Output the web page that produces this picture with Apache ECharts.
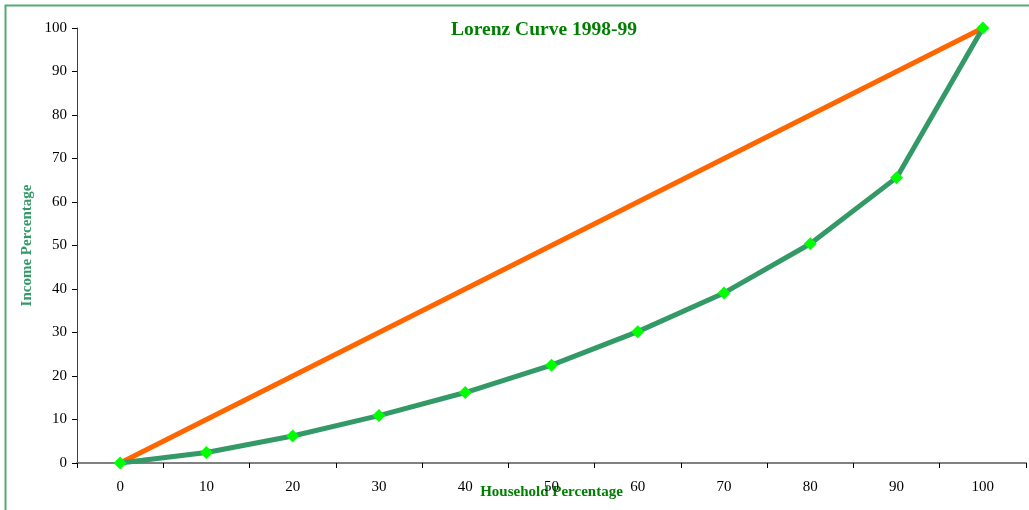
<!DOCTYPE html>
<html>
<head>
<meta charset="utf-8">
<script src="https://cdn.jsdelivr.net/npm/echarts@6/dist/echarts.min.js"></script>
<style>html,body{margin:0;padding:0;background:#fff;}#c{width:1029px;height:510px;}</style>
</head>
<body>
<div id="c"></div>
<script>
const categories = ['0','10','20','30','40','50','60','70','80','90','100'];
const equality = [0,10,20,30,40,50,60,70,80,90,100];
const lorenz = [0,2.4,6.2,10.9,16.2,22.5,30.2,39.1,50.4,65.6,100];
const yTicks = [0,10,20,30,40,50,60,70,80,90,100];

const chart = echarts.init(document.getElementById('c'));
const serif = '"Liberation Serif","DejaVu Serif",serif';
chart.setOption({
  animation: false,
  backgroundColor: '#fff',
  graphic: [{
    type: 'rect', left: 3, top: 3, z: -1,
    shape: { width: 1100, height: 600 },
    style: { fill: 'none', stroke: '#55aa77', lineWidth: 2 }
  }],
  title: {
    text: 'Lorenz Curve 1998-99', left: 539, top: 15, textAlign: 'center',
    textStyle: { fontFamily: serif, fontWeight: 'bold', fontSize: 19.5, color: '#008000' }
  },
  grid: { left: 77, right: 3, top: 28, bottom: 47, outerBoundsMode: 'none', containLabel: false },
  xAxis: {
    type: 'category', data: categories, boundaryGap: true,
    name: 'Household Percentage', nameLocation: 'middle', nameGap: 22, nameMoveOverlap: false,
    nameTextStyle: { fontFamily: serif, fontWeight: 'bold', fontSize: 15, color: '#008000' },
    axisLine: { lineStyle: { color: '#808080', width: 2 } },
    axisTick: { show: true, alignWithLabel: false, length: 5, lineStyle: { color: '#000' } },
    axisLabel: { fontFamily: serif, fontSize: 15, color: '#000', margin: 17 },
    splitLine: { show: false }
  },
  yAxis: {
    type: 'value', min: 0, max: 100, interval: 10,
    name: 'Income Percentage', nameLocation: 'middle', nameGap: 42, nameRotate: 90, nameMoveOverlap: false,
    nameTextStyle: { fontFamily: serif, fontWeight: 'bold', fontSize: 15, color: '#339966' },
    axisLine: { show: true, lineStyle: { color: '#404040', width: 1 } },
    axisTick: { show: true, length: 5, lineStyle: { color: '#000' } },
    axisLabel: { fontFamily: serif, fontSize: 15, color: '#000', margin: 10,
      formatter: v => yTicks.includes(v) ? String(v) : '' },
    splitLine: { show: false }
  },
  series: [
    {
      name: 'Equality', type: 'line', data: equality, showSymbol: false, symbol: 'none',
      lineStyle: { color: '#ff6600', width: 5 }, itemStyle: { color: '#ff6600' }, z: 2
    },
    {
      name: 'Lorenz', type: 'line', data: lorenz, symbol: 'diamond', symbolSize: 13,
      lineStyle: { color: '#339966', width: 5 }, itemStyle: { color: '#00ff00' }, z: 3
    }
  ]
});
</script>
</body>
</html>
